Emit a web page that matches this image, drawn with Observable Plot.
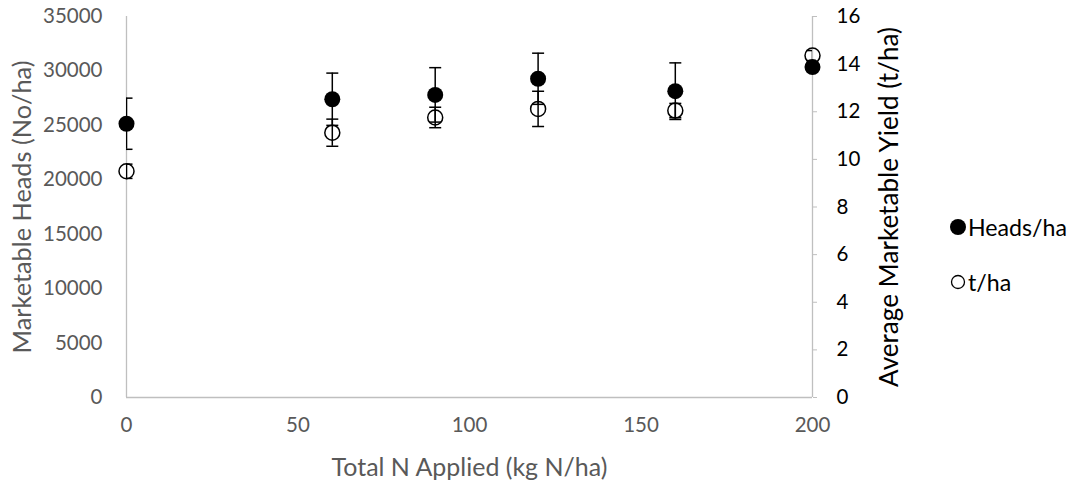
<!DOCTYPE html>
<html><head><meta charset="utf-8">
<script src="https://cdn.jsdelivr.net/npm/d3@7"></script>
<script src="https://cdn.jsdelivr.net/npm/@observablehq/plot@0.6"></script>
<style>
body{margin:0;background:#fff;font-family:Lato,sans-serif;}
#wrap{position:relative;width:1081px;height:485px;overflow:hidden;}
#legend{position:absolute;left:948px;top:199px;font-size:24px;color:#000;font-family:Lato,sans-serif;}
#legend .item{display:flex;align-items:center;height:55px;white-space:nowrap;}
</style></head><body><div id="wrap"></div>
<script>
// Data
const nApplied   = [0, 60, 90, 120, 160, 200];
const headsPerHa = [25150, 27400, 27800, 29280, 28140, 30350];
const headsErr   = [2350, 2400, 2500, 2350, 2600, 400];
const tPerHa     = [9.5, 11.12, 11.76, 12.12, 12.05, 14.36];
const tErr       = [0.3, 0.57, 0.43, 0.74, 0.3, 0.21];
const xTicks     = [0, 50, 100, 150, 200];
const leftTicks  = [0, 5000, 10000, 15000, 20000, 25000, 30000, 35000];
const rightTicks = [0, 2, 4, 6, 8, 10, 12, 14, 16];
const seriesNames = ["Heads/ha", "t/ha"];
const titles = {left: "Marketable Heads (No/ha)", right: "Average Marketable Yield (t/ha)", x: "Total N Applied (kg N/ha)"};
const leftMax = 35000, rightMax = 16;
const k = leftMax / rightMax; // secondary axis mapped onto primary

const heads = nApplied.map((n, i) => ({n, v: headsPerHa[i], lo: headsPerHa[i] - headsErr[i], hi: headsPerHa[i] + headsErr[i]}));
const tons  = nApplied.map((n, i) => ({n, v: tPerHa[i] * k, lo: (tPerHa[i] - tErr[i]) * k, hi: (tPerHa[i] + tErr[i]) * k}));

const capSymbol = {draw(ctx, size) { const r = Math.sqrt(size / Math.PI); ctx.moveTo(-r, 0); ctx.lineTo(r, 0); }};
const gray = "#595959", axisGray = "#bfbfbf";

function errorMarks(rows) {
  return [
    Plot.ruleX(rows, {x: "n", y1: "lo", y2: "hi", stroke: "#000", strokeWidth: 1.5, clip: true}),
    Plot.dot(rows, {x: "n", y: "hi", symbol: capSymbol, r: 6, stroke: "#000", strokeWidth: 1.5, fill: "none", clip: true}),
    Plot.dot(rows, {x: "n", y: "lo", symbol: capSymbol, r: 6, stroke: "#000", strokeWidth: 1.5, fill: "none", clip: true})
  ];
}

const chart = Plot.plot({
  width: 1081, height: 485,
  marginLeft: 126, marginRight: 269, marginTop: 16, marginBottom: 88,
  style: {fontFamily: "Lato, sans-serif", background: "#fff", color: "#000"},
  x: {domain: [0, 200]},
  y: {domain: [0, leftMax]},
  marks: [
    Plot.ruleX([0, 200], {stroke: axisGray, strokeWidth: 1.3}),
    Plot.ruleY([0], {stroke: axisGray, strokeWidth: 1.3}),
    Plot.axisX(xTicks, {tickSize: 0, tickPadding: 20, fill: gray, fontSize: 20.5, tickFormat: d => String(d), label: null}),
    Plot.axisY(leftTicks, {anchor: "left", tickSize: 0, tickPadding: 24, fill: gray, fontSize: 20.5, tickFormat: d => String(d), label: null}),
    Plot.axisY(rightTicks.map(v => v * k), {anchor: "right", tickSize: 4, tickPadding: 20, stroke: axisGray, fill: "#000", fontSize: 20.5, tickFormat: d => String(Math.round(d / k)), label: null}),
    Plot.text([titles.left], {text: d => d, frameAnchor: "left", dx: -104, rotate: -90, fill: gray, fontSize: 23, textAnchor: "middle", lineAnchor: "middle"}),
    Plot.text([titles.right], {text: d => d, frameAnchor: "right", dx: 77, rotate: -90, fill: "#000", fontSize: 23, textAnchor: "middle", lineAnchor: "middle"}),
    Plot.text([titles.x], {text: d => d, frameAnchor: "bottom", dy: 70, fill: gray, fontSize: 23, textAnchor: "middle", lineAnchor: "middle"}),
    ...errorMarks(heads),
    ...errorMarks(tons),
    Plot.dot(tons, {x: "n", y: "v", r: 7.5, stroke: "#000", strokeWidth: 1.5, fill: "none"}),
    Plot.dot(heads, {x: "n", y: "v", r: 8, fill: "#000", stroke: "none"})
  ]
});
const wrap = document.getElementById("wrap");
wrap.appendChild(chart);

// Fit title font sizes to the lengths they take in the reference
const targetLen = {[titles.left]: 293, [titles.right]: 360, [titles.x]: 276};
chart.querySelectorAll("text").forEach(t => {
  const want = targetLen[t.textContent];
  if (!want) return;
  const len = t.getComputedTextLength();
  const fs = parseFloat(t.getAttribute("font-size") || getComputedStyle(t).fontSize);
  if (len > 0) t.setAttribute("font-size", (fs * want / len).toFixed(2));
});

const legend = document.createElement("div");
legend.id = "legend";
seriesNames.forEach((name, i) => {
  const item = document.createElement("div");
  item.className = "item";
  const filled = i === 0;
  item.innerHTML = `<svg width="20" height="20" viewBox="-10 -10 20 20"><circle r="${filled ? 8 : 6.5}" fill="${filled ? "#000" : "none"}" stroke="#000" stroke-width="${filled ? 0 : 1.3}"/></svg><span>${name}</span>`;
  legend.appendChild(item);
});
wrap.appendChild(legend);
const firstLabel = legend.querySelector("span");
const w = firstLabel.getBoundingClientRect().width;
if (w > 0) legend.style.fontSize = (24 * 99 / w).toFixed(2) + "px";
</script></body></html>
